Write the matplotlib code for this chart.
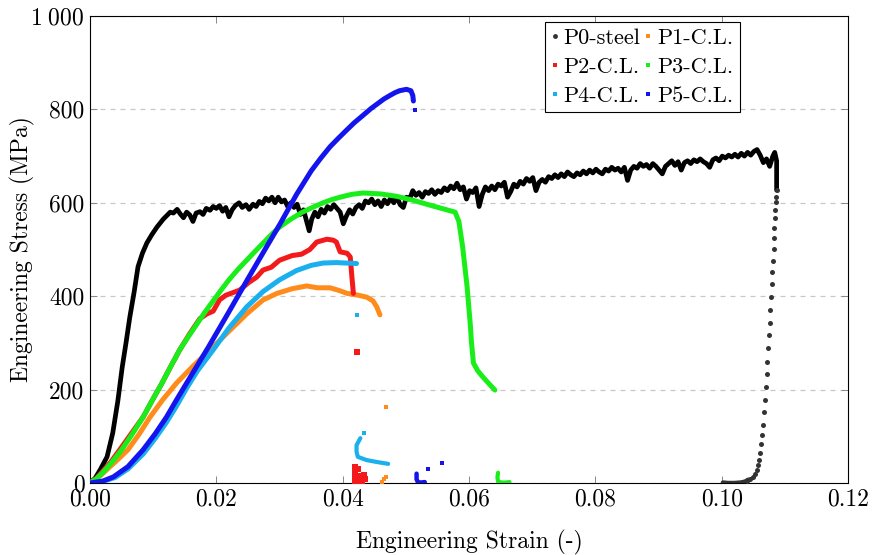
import matplotlib
matplotlib.use("Agg")
import matplotlib.pyplot as plt
from matplotlib.lines import Line2D

plt.rcParams['font.family'] = 'serif'
plt.rcParams['font.serif'] = ['cmr10', 'DejaVu Serif']
plt.rcParams['mathtext.fontset'] = 'cm'
plt.rcParams['axes.formatter.use_mathtext'] = True

# ---------------- data (strain, stress MPa) ----------------
P0_rise = [(0, 0), (0.0008, 10), (0.0016, 28), (0.0027, 56), (0.0036, 107), (0.0044, 175),
           (0.0051, 248), (0.0057, 300), (0.0063, 355), (0.0070, 410), (0.0076, 463),
           (0.0083, 492), (0.0090, 514), (0.0098, 532), (0.0106, 548), (0.0116, 565),
           (0.0127, 580)]
P0_plateau = [
    (0.0132, 578), (0.0138, 586), (0.0143, 576), (0.0148, 568), (0.0153, 580), (0.0158, 574),
    (0.0163, 560), (0.0168, 578), (0.0174, 581), (0.0179, 575), (0.0184, 588), (0.0190, 584),
    (0.0195, 592), (0.0200, 588), (0.0205, 594), (0.0210, 582), (0.0215, 590), (0.0220, 570),
    (0.0225, 585), (0.0230, 594), (0.0236, 600), (0.0241, 590), (0.0247, 596), (0.0252, 586),
    (0.0258, 597), (0.0263, 592), (0.0268, 603), (0.0273, 598), (0.0278, 610), (0.0283, 604),
    (0.0288, 612), (0.0293, 600), (0.0298, 612), (0.0303, 602), (0.0308, 606), (0.0313, 592),
    (0.0318, 600), (0.0323, 590), (0.0328, 597), (0.0333, 575), (0.0338, 585), (0.0343, 560),
    (0.0347, 540), (0.0351, 565), (0.0356, 580), (0.0361, 570), (0.0366, 586), (0.0371, 578),
    (0.0376, 592), (0.0381, 586), (0.0386, 596), (0.0391, 588), (0.0396, 580), (0.0401, 555),
    (0.0406, 572), (0.0411, 585), (0.0416, 576), (0.0421, 590), (0.0426, 596), (0.0431, 588),
    (0.0436, 604), (0.0441, 600), (0.0446, 608), (0.0451, 596), (0.0456, 604), (0.0461, 592),
    (0.0466, 606), (0.0471, 598), (0.0476, 610), (0.0481, 600), (0.0486, 612), (0.0491, 596),
    (0.0496, 590), (0.0501, 612), (0.0506, 608), (0.0511, 626), (0.0516, 616), (0.0521, 622),
    (0.0526, 612), (0.0531, 624), (0.0536, 620), (0.0541, 628), (0.0546, 618), (0.0551, 626),
    (0.0556, 622), (0.0561, 632), (0.0566, 626), (0.0571, 636), (0.0576, 630), (0.0581, 642),
    (0.0586, 628), (0.0591, 634), (0.0596, 608), (0.0601, 626), (0.0606, 622), (0.0611, 632),
    (0.0616, 592), (0.0621, 618), (0.0626, 634), (0.0631, 626), (0.0636, 636), (0.0641, 628),
    (0.0646, 640), (0.0651, 636), (0.0656, 644), (0.0661, 612), (0.0666, 624), (0.0671, 640),
    (0.0676, 634), (0.0681, 646), (0.0686, 640), (0.0691, 652), (0.0696, 646), (0.0701, 654),
    (0.0706, 626), (0.0711, 644), (0.0716, 650), (0.0721, 644), (0.0726, 656), (0.0731, 652),
    (0.0736, 660), (0.0741, 654), (0.0746, 662), (0.0751, 656), (0.0756, 666), (0.0761, 660),
    (0.0766, 656), (0.0771, 664), (0.0776, 660), (0.0781, 668), (0.0786, 662), (0.0791, 670),
    (0.0796, 664), (0.0801, 672), (0.0806, 666), (0.0811, 662), (0.0816, 672), (0.0821, 668),
    (0.0826, 676), (0.0831, 670), (0.0836, 674), (0.0841, 666), (0.0846, 676), (0.0851, 648),
    (0.0856, 670), (0.0861, 678), (0.0866, 674), (0.0871, 684), (0.0876, 678), (0.0881, 682),
    (0.0886, 674), (0.0891, 684), (0.0896, 678), (0.0901, 670), (0.0906, 662), (0.0911, 678),
    (0.0916, 684), (0.0921, 690), (0.0926, 680), (0.0931, 688), (0.0936, 670), (0.0941, 686),
    (0.0946, 690), (0.0951, 684), (0.0956, 692), (0.0961, 688), (0.0966, 694), (0.0971, 688),
    (0.0976, 684), (0.0981, 676), (0.0986, 692), (0.0991, 696), (0.0996, 690), (0.1001, 700),
    (0.1006, 696), (0.1011, 702), (0.1016, 698), (0.1021, 704), (0.1026, 698), (0.1031, 706),
    (0.1036, 700), (0.1041, 708), (0.1046, 702), (0.1051, 710), (0.1056, 714), (0.1061, 702),
    (0.1066, 686), (0.1071, 694), (0.1076, 678), (0.1081, 700), (0.1084, 708), (0.1087, 690),
    (0.1087, 660), (0.1087, 627)]
P0_drop = [(0.10871, 627), (0.10860, 613), (0.10855, 602), (0.10850, 585), (0.10845, 567),
           (0.10833, 546), (0.10829, 524), (0.10824, 501), (0.10813, 476), (0.10802, 451),
           (0.10792, 426), (0.10781, 399), (0.10770, 370), (0.10760, 343), (0.10749, 316),
           (0.10738, 289), (0.10722, 260), (0.10713, 233), (0.10702, 206), (0.10686, 178),
           (0.10670, 151), (0.10659, 125), (0.10643, 103), (0.10628, 83), (0.10612, 64),
           (0.10596, 50), (0.10575, 38), (0.10555, 28), (0.10528, 20), (0.10491, 13),
           (0.10449, 8), (0.10396, 4)]
P0_floor = [(0.1002, 1), (0.1010, 0), (0.1020, 0), (0.1030, 1), (0.1037, 3), (0.1042, 7)]

P1 = [(0, 0), (0.001, 8), (0.002, 20), (0.003, 33), (0.004, 45), (0.005, 58), (0.006, 71),
      (0.0078, 105), (0.0095, 141), (0.0115, 178), (0.0137, 214), (0.0163, 250), (0.019, 285),
      (0.022, 325), (0.0248, 362), (0.0274, 392), (0.0296, 406), (0.032, 416), (0.0343, 422),
      (0.036, 418), (0.038, 418), (0.0395, 412), (0.0407, 406), (0.0425, 402), (0.0438, 398),
      (0.0448, 390), (0.0454, 377), (0.0459, 360)]
P1_frag = [(0.0468, 163), (0.0462, 3), (0.0465, 8), (0.0468, 13)]

P2 = [(0, 0), (0.001, 10), (0.002, 25), (0.0033, 45), (0.0047, 71), (0.0065, 105), (0.0084, 141),
      (0.0099, 178), (0.0114, 214), (0.0128, 250), (0.0142, 285), (0.0158, 320), (0.0174, 352),
      (0.0185, 362), (0.0195, 368), (0.0205, 392), (0.0215, 402), (0.0237, 413), (0.025, 428),
      (0.0264, 441), (0.0274, 456), (0.0287, 462), (0.030, 477), (0.032, 487), (0.0335, 490),
      (0.0348, 500), (0.0359, 516), (0.0375, 522), (0.0385, 520), (0.039, 516), (0.0396, 495),
      (0.0407, 492), (0.0412, 484), (0.0415, 435), (0.0417, 406)]
P2_frag = [(0.0423, 280), (0.0419, 2), (0.0419, 12), (0.0419, 24), (0.0420, 35), (0.0424, 30),
           (0.0428, 15), (0.0434, 18), (0.0436, 8), (0.0430, 5), (0.0424, 4)]

P3 = [(0, 0), (0.001, 9), (0.002, 22), (0.0035, 45), (0.005, 71), (0.0067, 105), (0.0084, 141),
      (0.0099, 178), (0.0114, 214), (0.0128, 250), (0.0142, 285), (0.0155, 312), (0.0168, 338),
      (0.0182, 366), (0.0195, 390), (0.0208, 414), (0.022, 435), (0.0234, 457), (0.0248, 477),
      (0.0262, 497), (0.0275, 515), (0.0288, 533), (0.030, 548), (0.0318, 565), (0.0335, 579),
      (0.0352, 590), (0.0369, 600), (0.0383, 607), (0.0396, 612), (0.0414, 618), (0.0432, 621),
      (0.046, 619), (0.0485, 614), (0.051, 606), (0.0538, 595), (0.0578, 580), (0.0584, 560),
      (0.059, 505), (0.0597, 420), (0.0602, 340), (0.0604, 300), (0.0607, 257), (0.0614, 240),
      (0.0622, 227), (0.0632, 212), (0.0641, 199)]
P3_frag = [(0.0646, 22), (0.0645, 12), (0.0646, 3), (0.0652, 1), (0.0658, 1), (0.0664, 2)]

P4 = [(0, 0), (0.002, 3), (0.004, 12), (0.006, 30), (0.0084, 62), (0.0103, 95), (0.0121, 130),
      (0.0137, 165), (0.0153, 203), (0.017, 240), (0.0195, 285), (0.022, 332), (0.0248, 377),
      (0.0274, 410), (0.030, 435), (0.0327, 455), (0.035, 466), (0.0369, 471), (0.039, 472),
      (0.0405, 471), (0.0422, 470)]
P4_dot = [(0.0423, 360), (0.0433, 107)]
P4_tail = [(0.0428, 96), (0.0422, 81), (0.0422, 67), (0.0424, 56), (0.0438, 49), (0.0454, 45),
           (0.0472, 41)]

P5 = [(0, 0), (0.002, 4), (0.0037, 13), (0.006, 35), (0.0084, 71), (0.0103, 105), (0.0121, 141),
      (0.0137, 178), (0.0153, 214), (0.017, 252), (0.0187, 290), (0.0218, 362), (0.0249, 435),
      (0.0274, 493), (0.0301, 555), (0.0327, 618), (0.035, 668), (0.0365, 695), (0.038, 720),
      (0.0393, 738), (0.0405, 754), (0.0418, 771), (0.0432, 787), (0.0445, 802), (0.0455, 812),
      (0.0465, 822), (0.0475, 830), (0.0483, 836), (0.049, 840), (0.0501, 843), (0.0508, 840),
      (0.0511, 830), (0.0512, 818)]
P5_frag = [(0.0514, 799), (0.0517, 20), (0.0517, 8), (0.0519, 2), (0.0524, 1), (0.0530, 2),
           (0.0535, 30), (0.0557, 43)]

labels = ["P0-steel", "P1-C.L.", "P2-C.L.", "P3-C.L.", "P4-C.L.", "P5-C.L."]
colors = ["#000000", "#ff8c1a", "#f21a1a", "#1aee1a", "#1ab0ee", "#1414ee"]
xticks = [0.00, 0.02, 0.04, 0.06, 0.08, 0.10, 0.12]
xticklabels = ["0.00", "0.02", "0.04", "0.06", "0.08", "0.10", "0.12"]
yticks = [0, 200, 400, 600, 800, 1000]
yticklabels = ["0", "200", "400", "600", "800", r"$1\;000$"]


def xy(pts):
    return [p[0] for p in pts], [p[1] for p in pts]


fig = plt.figure(figsize=(8.72, 5.55), dpi=100)
ax = fig.add_axes([90 / 872, 72 / 555, 758 / 872, 467 / 555])

lw = 3.6
# P0
x, y = xy(P0_rise + P0_plateau)
ax.plot(x, y, color=colors[0], lw=3.4, solid_joinstyle='round', solid_capstyle='round', zorder=3)
x, y = xy(P0_drop)
ax.plot(x, y, 'o', color='#333333', ms=3.6, mew=0, zorder=3)
x, y = xy(P0_floor)
ax.plot(x, y, color='#333333', lw=3.2, solid_capstyle='round', zorder=3)

# P1
x, y = xy(P1)
ax.plot(x, y, color=colors[1], lw=lw, solid_capstyle='round', solid_joinstyle='round', zorder=4)
x, y = xy(P1_frag)
ax.plot(x, y, 's', color=colors[1], ms=3.3, mew=0, zorder=4)

# P2
x, y = xy(P2)
ax.plot(x, y, color=colors[2], lw=lw, solid_capstyle='round', solid_joinstyle='round', zorder=5)
x, y = xy(P2_frag)
ax.plot(x, y, 's', color=colors[2], ms=4, mew=0, zorder=5)

# P3
x, y = xy(P3)
ax.plot(x, y, color=colors[3], lw=lw, solid_capstyle='round', solid_joinstyle='round', zorder=6)
x, y = xy(P3_frag)
ax.plot(x, y, color=colors[3], lw=3.0, solid_capstyle='round', zorder=6)

# P4
x, y = xy(P4)
ax.plot(x, y, color=colors[4], lw=lw, solid_capstyle='round', solid_joinstyle='round', zorder=7)
x, y = xy(P4_dot)
ax.plot(x, y, 's', color=colors[4], ms=3.3, mew=0, zorder=7)
x, y = xy(P4_tail)
ax.plot(x, y, color=colors[4], lw=3.0, solid_capstyle='round', zorder=7)

# P5
x, y = xy(P5)
ax.plot(x, y, color=colors[5], lw=lw, solid_capstyle='round', solid_joinstyle='round', zorder=8)
x, y = xy(P5_frag[:1])
ax.plot(x, y, 's', color=colors[5], ms=3.3, mew=0, zorder=8)
x, y = xy(P5_frag[1:6])
ax.plot(x, y, color=colors[5], lw=3.2, solid_capstyle='round', zorder=8)
x, y = xy(P5_frag[6:])
ax.plot(x, y, 's', color=colors[5], ms=3.3, mew=0, zorder=8)

ax.set_xlim(0, 0.12)
ax.set_ylim(0, 1000)
ax.set_xticks(xticks)
ax.set_xticklabels(xticklabels)
ax.set_yticks(yticks)
ax.set_yticklabels(yticklabels)
ax.tick_params(direction='in', top=True, right=True, length=5, width=0.7,
               color='#888888', labelsize=17, pad=4)
ax.yaxis.grid(True, linestyle=(0, (4, 4)), color='#c8c8c8', lw=0.9)
ax.set_axisbelow(True)
for s in ax.spines.values():
    s.set_linewidth(0.8)
    s.set_color('black')

ax.set_xlabel("Engineering Strain (-)", fontsize=17, labelpad=14)
ax.set_ylabel("Engineering Stress (MPa)", fontsize=17)
ax.yaxis.set_label_coords(-0.073, 0.5)

handles = [Line2D([], [], ls='none', marker='o', color='#333333', ms=3.5, mew=0)]
for c in colors[1:]:
    handles.append(Line2D([], [], ls='none', marker='s', color=c, ms=3.5, mew=0))
order = [0, 2, 4, 1, 3, 5]
leg = ax.legend([handles[i] for i in order], [labels[i] for i in order], ncol=2,
                loc='upper left', bbox_to_anchor=(0.600, 0.988), fontsize=16,
                frameon=True, fancybox=False, edgecolor='black', framealpha=1,
                handlelength=0.3, handletextpad=0.25, columnspacing=0.2,
                labelspacing=0.42, borderpad=0.3, borderaxespad=0)
leg.get_frame().set_linewidth(0.8)
leg.set_zorder(20)

fig.savefig("out.png", dpi=100)
